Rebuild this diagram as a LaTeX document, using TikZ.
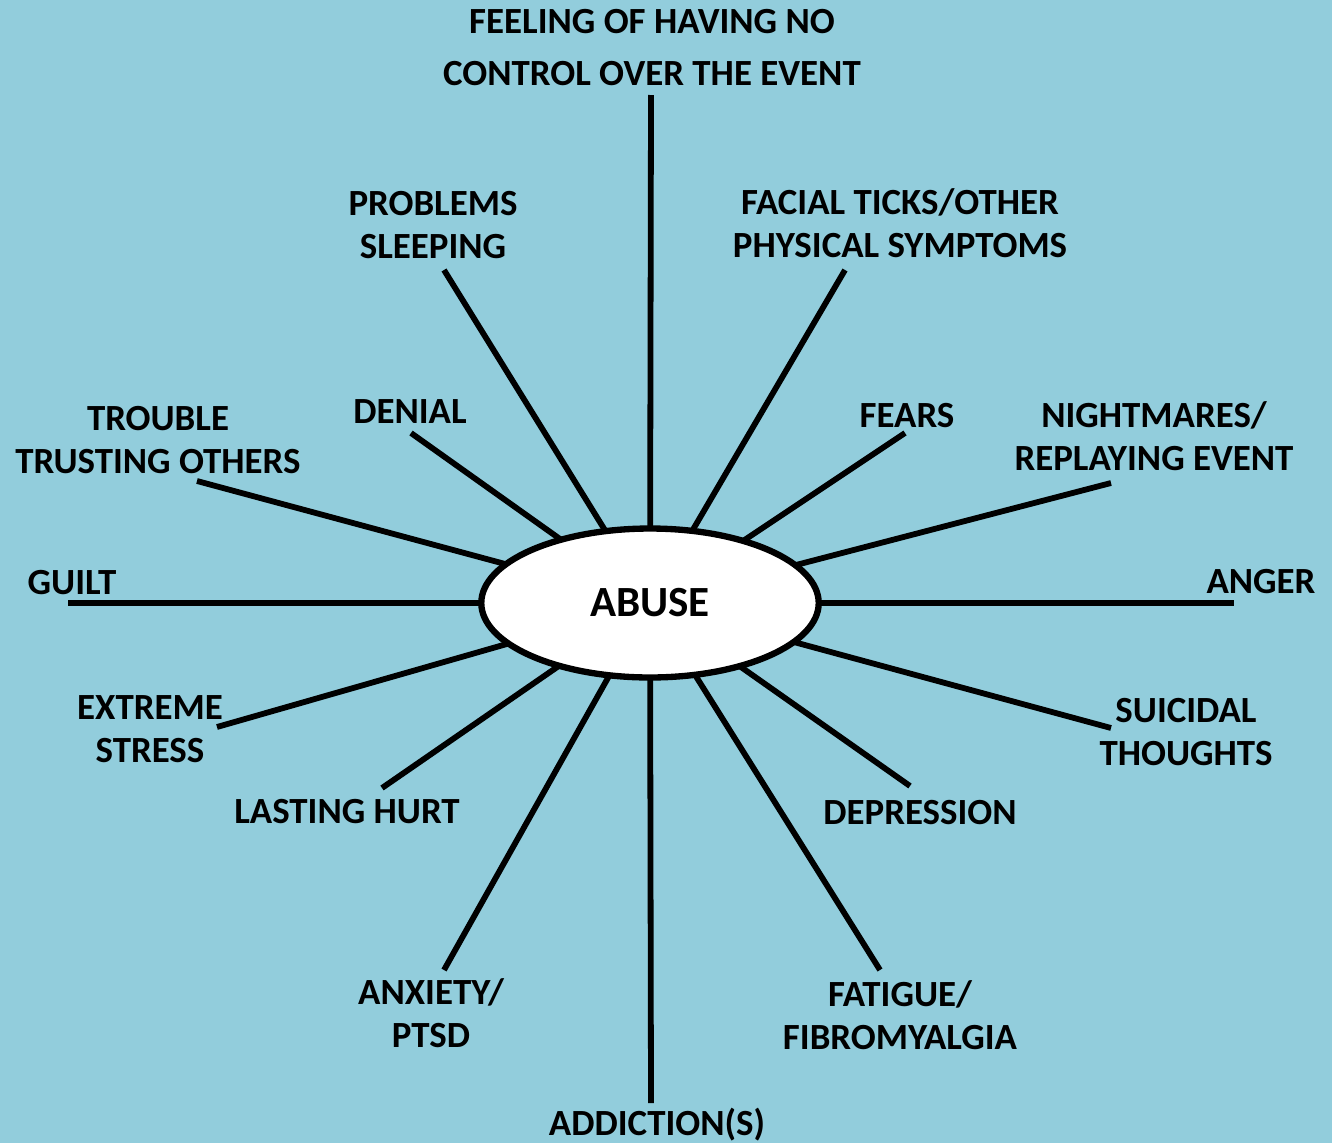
\documentclass[tikz,border=0pt]{standalone}
\usepackage{fontspec}
\setmainfont{Carlito}
\usetikzlibrary{shapes.geometric}
\definecolor{aquabg}{HTML}{92CDDC}
\begin{document}
\begin{tikzpicture}[
    x=0.02cm, y=-0.02cm,
    spoke/.style={line width=3.3pt, black},
    effect/.style={font=\fontsize{21}{24.5}\selectfont\bfseries, align=center, inner sep=0pt},
    core/.style={draw, ellipse, line width=3.6pt, fill=white, minimum width=6.75cm, minimum height=2.98cm, font=\fontsize{24.5}{30}\selectfont\bfseries},
  ]
    % Hintergrund
    \fill[aquabg] (0, 0) rectangle (1332, 1143);
    \useasboundingbox (0, 0) rectangle (1332, 1143);

    % Aeussere Enden der Speichen
    \coordinate (cControl) at (651, 95);
    \coordinate (cSleep) at (444, 270);
    \coordinate (cTicks) at (845, 270);
    \coordinate (cDenial) at (411, 433);
    \coordinate (cFears) at (905, 433);
    \coordinate (cTrust) at (197, 481);
    \coordinate (cNight) at (1111, 483);
    \coordinate (cGuilt) at (68, 603);
    \coordinate (cAnger) at (1234, 603);
    \coordinate (cStress) at (217, 727);
    \coordinate (cSuicide) at (1111, 728);
    \coordinate (cHurt) at (382, 788);
    \coordinate (cDepr) at (910, 786);
    \coordinate (cAnx) at (444, 970);
    \coordinate (cFatigue) at (880, 970);
    \coordinate (cAddict) at (651, 1103);

    % Mitte (Form zuerst fuer die Speichen, dann obendrauf gezeichnet)
    \node[core, draw=none, fill=none] (abuse) at (650, 603) {\phantom{ABUSE}};

    % Speichen
    \foreach \c in {cControl, cSleep, cTicks, cDenial, cFears, cTrust, cNight, cGuilt,
                    cAnger, cStress, cSuicide, cHurt, cDepr, cAnx, cFatigue, cAddict}
      \draw[spoke] (abuse.center) -- (\c);

    \node[core] (abuseTop) at (abuse.center) {ABUSE};

    % Beschriftungen
    \node[effect] (lControl1) at (652, 22) {FEELING OF HAVING NO};
    \node[effect] (lControl2) at (652, 74) {CONTROL OVER THE EVENT};
    \node[effect] (lSleep) at (433, 225) {PROBLEMS\\SLEEPING};
    \node[effect] (lTicks) at (900, 223) {FACIAL TICKS/OTHER\\PHYSICAL SYMPTOMS};
    \node[effect] (lDenial) at (410, 412) {DENIAL};
    \node[effect] (lFears) at (907, 416) {FEARS};
    \node[effect] (lTrust) at (158, 440) {TROUBLE\\TRUSTING OTHERS};
    \node[effect] (lNight) at (1154, 436) {NIGHTMARES/\\REPLAYING EVENT};
    \node[effect] (lGuilt) at (72, 583) {GUILT};
    \node[effect] (lAnger) at (1261, 582) {ANGER};
    \node[effect] (lStress) at (150, 729) {EXTREME\\STRESS};
    \node[effect] (lSuicide) at (1186, 732) {SUICIDAL\\THOUGHTS};
    \node[effect] (lHurt) at (347, 812) {LASTING HURT};
    \node[effect] (lDepr) at (920, 813) {DEPRESSION};
    \node[effect] (lAnx) at (431, 1013) {ANXIETY/\\PTSD};
    \node[effect] (lFatigue) at (900, 1015) {FATIGUE/\\FIBROMYALGIA};
    \node[effect] (lAddict) at (657, 1125) {ADDICTION(S)};
  \end{tikzpicture}
\end{document}
